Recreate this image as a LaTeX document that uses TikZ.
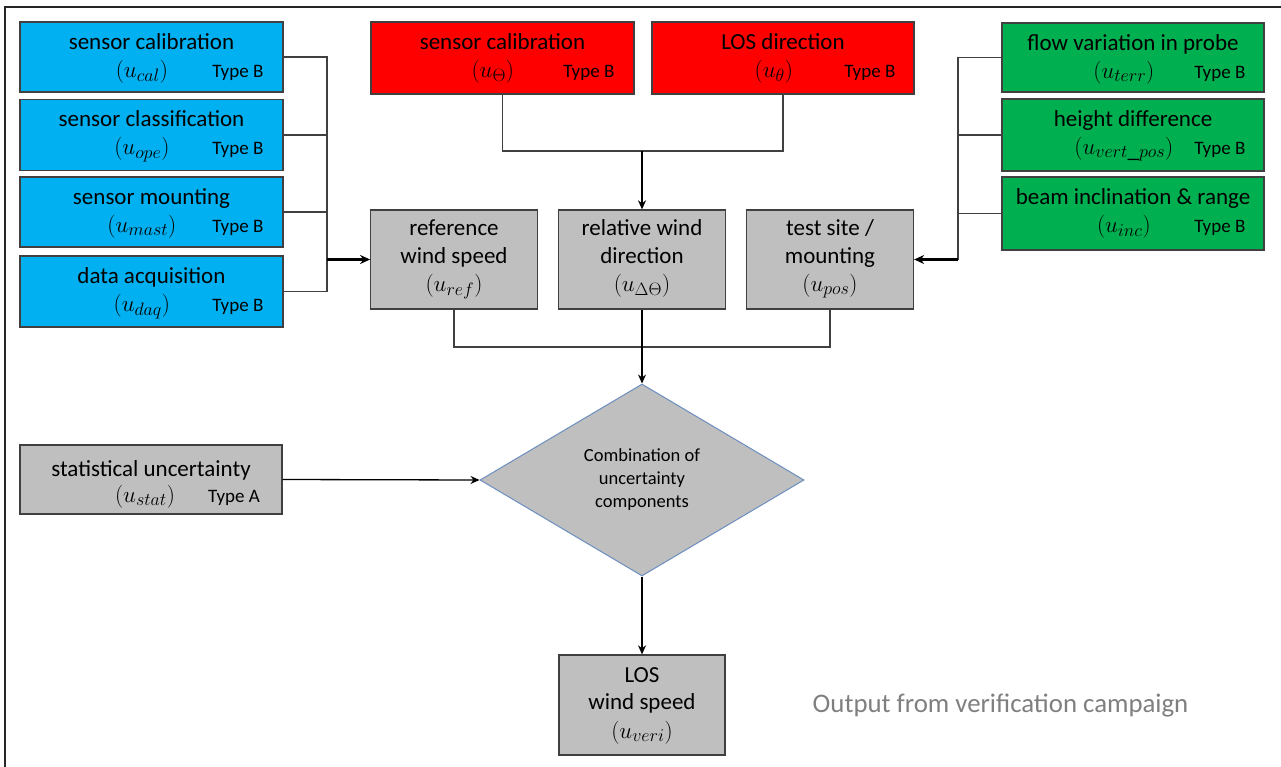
\RequirePackage{fix-cm}
\documentclass[tikz,border=0pt]{standalone}
\usepackage{fontspec}
\setmainfont{Carlito}
\usetikzlibrary{arrows.meta,shapes.geometric}
\DeclareMathSizes{23}{23}{18}{14}
\definecolor{cblue}{HTML}{00B0F0}
\definecolor{cred}{HTML}{FF0000}
\definecolor{cgreen}{HTML}{00B050}
\definecolor{cgray}{HTML}{BFBFBF}
\definecolor{cline}{HTML}{404040}
\definecolor{cdia}{HTML}{6C8EBF}
\definecolor{ctext}{HTML}{7F7F7F}
\tikzset{
  box/.style={draw=cline, line width=1.3pt, inner sep=0pt, rectangle},
  bluebox/.style={box, fill=cblue},
  redbox/.style={box, fill=cred},
  greenbox/.style={box, fill=cgreen},
  graybox/.style={box, fill=cgray},
  txt/.style={inner sep=0pt, font=\fontsize{23}{27}\selectfont},
  mth/.style={inner sep=0pt, font=\fontsize{23}{27}\selectfont},
  small/.style={inner sep=0pt, font=\fontsize{19}{22}\selectfont},
  diatxt/.style={inner sep=0pt, anchor=base, font=\fontsize{18.5}{21}\selectfont},
  conn/.style={draw=cline, line width=1.3pt},
  arr/.style={draw=black, line width=1.3pt, -{Stealth[length=9pt,width=8pt]}},
  tarr/.style={draw=black, line width=2.2pt, -{Stealth[length=10pt,width=9pt]}},
}
\newcommand\ubox[8]{%
  \node[#2, minimum width=#4pt, minimum height=#5pt] (#1) at #3 {};
  \node[txt, anchor=base] (#1-a) at ([shift={(0,28)}]#1.north) {#6};
  \node[mth, anchor=base] (#1-b) at ([shift={(122.5,56)}]#1.north west) {$(u_{#7})$};
  \node[small, anchor=base] (#1-c) at ([shift={(218.5,56)}]#1.north west) {#8};
}
\begin{document}
\begin{tikzpicture}[x=1pt,y=-1pt]
\useasboundingbox (0,0) rectangle (1281,767);
\fill[white] (0,0) rectangle (1281,767);
\draw[line width=1.6pt, draw=black!85] (5,767) -- (5,7) -- (1281,7);

% blue
\ubox{b1}{bluebox}{(151.5,57)}{263}{70}{sensor calibration}{cal}{Type B}
\ubox{b2}{bluebox}{(151.5,135)}{263}{71}{sensor classification}{ope}{Type B}
\ubox{b3}{bluebox}{(151.5,212)}{263}{70}{sensor mounting}{mast}{Type B}
\ubox{b4}{bluebox}{(151.5,291.5)}{263}{71}{data acquisition}{daq}{Type B}
% red
\ubox{r1}{redbox}{(502.5,58)}{263}{72}{sensor calibration}{\Theta}{Type B}
\ubox{r2}{redbox}{(783,58)}{262}{72}{LOS direction}{\theta}{Type B}
% green
\ubox{g1}{greenbox}{(1133,57.5)}{262}{69}{flow variation in probe}{terr}{Type B}
\ubox{g2}{greenbox}{(1133,135)}{262}{72}{height difference}{vert\_pos}{Type B}
\ubox{g3}{greenbox}{(1133,213.5)}{262}{73}{beam inclination \& range}{inc}{Type B}

% gray middle
\node[graybox, minimum width=166.5pt, minimum height=99pt] (ref) at (454,259.5) {};
\node[txt, anchor=base] (ref-a) at (454,236) {reference};
\node[txt, anchor=base] (ref-b) at (454,263) {wind speed};
\node[mth, anchor=base] (ref-c) at (454,291) {$(u_{ref})$};
\node[graybox, minimum width=167pt, minimum height=99pt] (rel) at (642,259.5) {};
\node[txt, anchor=base] (rel-a) at (642,236) {relative wind};
\node[txt, anchor=base] (rel-b) at (642,263) {direction};
\node[mth, anchor=base] (rel-c) at (642,291) {$(u_{\Delta\Theta})$};
\node[graybox, minimum width=167pt, minimum height=99pt] (test) at (830,259.5) {};
\node[txt, anchor=base] (test-a) at (830,236) {test site /};
\node[txt, anchor=base] (test-b) at (830,263) {mounting};
\node[mth, anchor=base] (test-c) at (830,291) {$(u_{pos})$};

% statistical
\node[graybox, minimum width=262pt, minimum height=69pt] (stat) at (151,479.5) {};
\node[txt, anchor=base] (stat-a) at (151,476) {statistical uncertainty};
\node[mth, anchor=base] (stat-b) at (145,502) {$(u_{stat})$};
\node[small, anchor=base] (stat-c) at (234,502) {Type A};

% diamond
\node[diamond, draw=cdia, fill=cgray, line width=1pt, minimum width=324pt, minimum height=192pt, inner sep=0pt, aspect=1.6875] (dia) at (642,480) {};
\node[diatxt] (dia-a) at (642,461) {Combination of};
\node[diatxt] (dia-b) at (642,484) {uncertainty};
\node[diatxt] (dia-c) at (642,507) {components};

% LOS output
\node[graybox, minimum width=166pt, minimum height=100pt] (los) at (642,705) {};
\node[txt, anchor=base] (los-a) at (642,682) {LOS};
\node[txt, anchor=base] (los-b) at (642,709) {wind speed};
\node[mth, anchor=base] (los-c) at (642,738) {$(u_{veri})$};

\node[inner sep=0pt, anchor=base, text=ctext, font=\fontsize{26.8}{30}\selectfont] (out) at (1000.5,712) {Output from verification campaign};

% connectors: blue group
\coordinate (bx) at (327,0);
\draw[conn] (b1.east) -- (b1.east -| bx) -- (b4.east -| bx) -- (b4.east);
\draw[conn] (b2.east) -- (b2.east -| bx);
\draw[conn] (b3.east) -- (b3.east -| bx);
\draw[tarr] (ref.west -| bx) -- (ref.west);
% green group
\coordinate (gx) at (958,0);
\draw[conn] (g1.west) -- (g1.west -| gx) -- (test.east -| gx);
\draw[conn] (g2.west) -- (g2.west -| gx);
\draw[conn] (g3.west) -- (g3.west -| gx);
\draw[tarr] (test.east -| gx) -- (test.east);
% red group
\coordinate (ry) at (0,151);
\draw[conn] (r1.south) -- (r1.south |- ry) -- (r2.south |- ry) -- (r2.south);
\draw[arr] (rel.north |- ry) -- (rel.north);
% gray merge
\coordinate (my) at (0,347);
\draw[conn] (ref.south) -- (ref.south |- my) -- (test.south |- my) -- (test.south);
\draw[arr] (rel.south) -- (dia.north);
\draw[arr] (stat.east) -- (dia.west);
\draw[arr] (dia.south) -- (los.north);
\end{tikzpicture}
\end{document}
